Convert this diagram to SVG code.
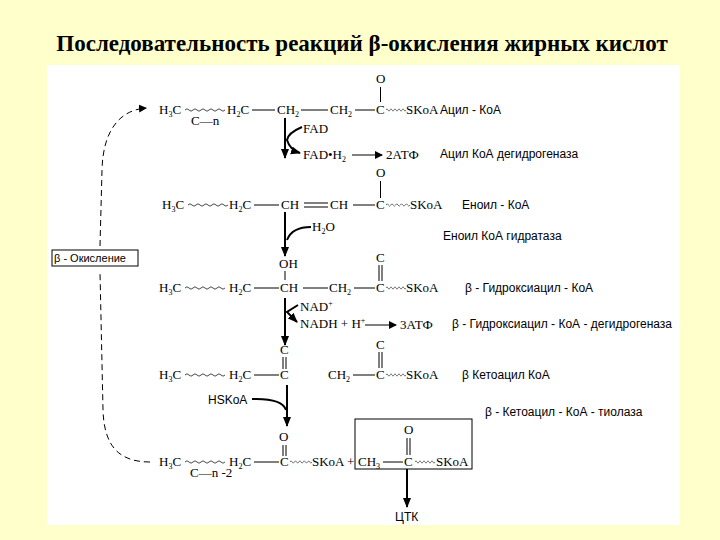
<svg xmlns="http://www.w3.org/2000/svg" width="720" height="540" viewBox="0 0 720 540">
<style>
.c{font-family:"Liberation Serif",serif;font-size:13px;fill:#000}
.s{font-family:"Liberation Sans",sans-serif;font-size:12px;fill:#000}
.b{stroke:#000;stroke-width:1;fill:none}
.w{stroke:#000;stroke-width:0.8;fill:none}
.a{stroke:#000;stroke-width:2;fill:none}
</style>
<defs>
<marker id="ah" markerWidth="8" markerHeight="8" refX="7" refY="4" orient="auto" markerUnits="userSpaceOnUse"><path d="M0,0 L8,4 L0,8 z" fill="#000"/></marker>
<marker id="ab" markerWidth="10" markerHeight="10" refX="9" refY="5" orient="auto" markerUnits="userSpaceOnUse"><path d="M0,1 L10,5 L0,9 z" fill="#000"/></marker>
<path id="wv" d="M0,0 q2,-3 4,0 t4,0 t4,0 t4,0 t4,0 t4,0 t4,0 t4,0 t4,0 t4,0"/>
</defs>
<rect width="720" height="540" fill="#ffffcc"/>
<rect x="47" y="65" width="633" height="460" fill="#fff"/>
<text x="362" y="51" text-anchor="middle" style="font-family:'Liberation Serif',serif;font-size:23px;font-weight:bold">Последовательность реакций β-окисления жирных кислот</text>

<g id="row1">
<text class="c" x="159" y="114">H<tspan font-size="8" dy="3">3</tspan><tspan dy="-3">C</tspan></text>
<use href="#wv" class="w" transform="translate(185,110) scale(1,0.8)"/>
<text class="c" x="191" y="125">C—n</text>
<text class="c" x="227" y="114">H<tspan font-size="8" dy="3">2</tspan><tspan dy="-3">C</tspan></text>
<path class="b" d="M252,110 H275 M301,110 H328 M355,110 H375"/>
<text class="c" x="277" y="114">CH<tspan font-size="8" dy="3">2</tspan></text>
<text class="c" x="330" y="114">CH<tspan font-size="8" dy="3">2</tspan></text>
<text class="c" x="376" y="114">C</text>
<text class="c" x="376" y="83">O</text>
<path class="b" d="M380.5,87 V102"/>
<use href="#wv" class="w" transform="translate(386,110) scale(0.5,0.8)"/>
<text class="c" x="406" y="114">SKoA</text>
<text class="s" x="440" y="114">Ацил - КоА</text>
</g>

<g id="step1">
<path class="a" d="M285,118 V158" marker-end="url(#ab)"/>
<path class="a" d="M302,127 Q288,133 287,140 Q290,150 300,153" marker-end="url(#ab)"/>
<text class="c" x="303" y="133">FAD</text>
<text class="c" x="303" y="159">FAD•H<tspan font-size="8" dy="3">2</tspan></text>
<path class="b" d="M352,155 H382" marker-end="url(#ah)"/>
<text class="c" x="386" y="159">2АТФ</text>
<text class="s" x="440" y="158">Ацил КоА дегидрогеназа</text>
</g>

<g id="row2">
<text class="c" x="162" y="209">H<tspan font-size="8" dy="3">3</tspan><tspan dy="-3">C</tspan></text>
<use href="#wv" class="w" transform="translate(188,205) scale(1,0.8)"/>
<text class="c" x="229" y="209">H<tspan font-size="8" dy="3">2</tspan><tspan dy="-3">C</tspan></text>
<path class="b" d="M254,205 H279 M304,203 H328 M304,207 H328 M353,205 H375"/>
<text class="c" x="281" y="209">CH</text>
<text class="c" x="330" y="209">CH</text>
<text class="c" x="376" y="209">C</text>
<text class="c" x="376" y="177">O</text>
<path class="b" d="M380.5,181 V198"/>
<use href="#wv" class="w" transform="translate(386,205) scale(0.6,0.8)"/>
<text class="c" x="410" y="209">SKoA</text>
<text class="s" x="462" y="209">Еноил - КоА</text>
</g>

<g id="step2">
<path class="a" d="M285,212 V256" marker-end="url(#ab)"/>
<path class="a" d="M311,227 Q292,227 287,240"/>
<text class="c" x="312" y="231">H<tspan font-size="8" dy="3">2</tspan><tspan dy="-3">O</tspan></text>
<text class="s" x="443" y="240">Еноил КоА гидратаза</text>
</g>

<g id="row3">
<text class="c" x="279" y="268">OH</text>
<path class="b" d="M285,271 V280"/>
<text class="c" x="159" y="292">H<tspan font-size="8" dy="3">3</tspan><tspan dy="-3">C</tspan></text>
<use href="#wv" class="w" transform="translate(185,288) scale(1,0.8)"/>
<text class="c" x="229" y="292">H<tspan font-size="8" dy="3">2</tspan><tspan dy="-3">C</tspan></text>
<path class="b" d="M254,288 H279 M303,288 H328 M354,288 H375"/>
<text class="c" x="280" y="292">CH</text>
<text class="c" x="329" y="292">CH<tspan font-size="8" dy="3">2</tspan></text>
<text class="c" x="376" y="292">C</text>
<text class="c" x="376" y="262">C</text>
<path class="b" d="M379,265 V281 M382,265 V281"/>
<use href="#wv" class="w" transform="translate(386,288) scale(0.5,0.8)"/>
<text class="c" x="406" y="292">SKoA</text>
<text class="s" x="465" y="292">β - Гидроксиацил - КоА</text>
</g>

<g id="step3">
<path class="a" d="M285,298 V345" marker-end="url(#ab)"/>
<path class="a" d="M298,305 L287,312 L297,322" marker-end="url(#ab)"/>
<text class="c" x="300" y="311">NAD<tspan font-size="8" dy="-5">+</tspan></text>
<text class="c" x="300" y="328">NADH + H<tspan font-size="8" dy="-5">+</tspan></text>
<path class="b" d="M365,325 H396" marker-end="url(#ah)"/>
<text class="c" x="400" y="329">3АТФ</text>
<text class="s" x="452" y="328">β - Гидроксиацил - КоА - дегидрогеназа</text>
</g>

<g id="row4">
<text class="c" x="280" y="354">C</text>
<path class="b" d="M283,357 V369 M286,357 V369"/>
<text class="c" x="159" y="379">H<tspan font-size="8" dy="3">3</tspan><tspan dy="-3">C</tspan></text>
<use href="#wv" class="w" transform="translate(185,375) scale(1,0.8)"/>
<text class="c" x="229" y="379">H<tspan font-size="8" dy="3">2</tspan><tspan dy="-3">C</tspan></text>
<path class="b" d="M254,375 H279 M353,375 H375"/>
<text class="c" x="280" y="379">C</text>
<text class="c" x="328" y="379">CH<tspan font-size="8" dy="3">2</tspan></text>
<text class="c" x="376" y="379">C</text>
<text class="c" x="376" y="349">C</text>
<path class="b" d="M379,352 V368 M382,352 V368"/>
<use href="#wv" class="w" transform="translate(386,375) scale(0.5,0.8)"/>
<text class="c" x="406" y="379">SKoA</text>
<text class="s" x="462" y="379">β Кетоацил КоА</text>
</g>

<g id="step4">
<path class="a" d="M287,385 V426" marker-end="url(#ab)"/>
<path class="a" d="M252,399 Q282,398 286,410"/>
<text class="s" x="208" y="404">HSKoA</text>
<text class="s" x="485" y="416">β - Кетоацил - КоА - тиолаза</text>
</g>

<g id="row5">
<text class="c" x="279" y="441">O</text>
<path class="b" d="M283,445 V456 M286,445 V456"/>
<text class="c" x="159" y="466">H<tspan font-size="8" dy="3">3</tspan><tspan dy="-3">C</tspan></text>
<use href="#wv" class="w" transform="translate(185,462) scale(1,0.8)"/>
<text class="c" x="190" y="477">C—n -2</text>
<text class="c" x="229" y="466">H<tspan font-size="8" dy="3">2</tspan><tspan dy="-3">C</tspan></text>
<path class="b" d="M254,462 H279"/>
<text class="c" x="280" y="466">C</text>
<use href="#wv" class="w" transform="translate(290,462) scale(0.55,0.8)"/>
<text class="c" x="312" y="466">SKoA +</text>
<rect class="b" x="355" y="419" width="117" height="50"/>
<text class="c" x="358" y="466">CH<tspan font-size="8" dy="3">3</tspan></text>
<path class="b" d="M383,462 H403"/>
<text class="c" x="404" y="466">C</text>
<text class="c" x="404" y="434">O</text>
<path class="b" d="M407,438 V455 M410,438 V455"/>
<use href="#wv" class="w" transform="translate(415,462) scale(0.5,0.8)"/>
<text class="c" x="436" y="466">SKoA</text>
<path class="a" d="M407,469 V507" marker-end="url(#ab)"/>
<text class="s" x="395" y="521">ЦТК</text>
</g>

<g id="cycle">
<rect x="52" y="250" width="86" height="16" fill="#fff" stroke="#000"/>
<text class="s" x="54" y="262" style="font-size:11px">β - Окисление</text>
</g>

<g id="connectors">
<path class="b" stroke-dasharray="6,4" d="M150,462 C118,462 104,445 103,410 L100,272"/>
<path class="b" stroke-dasharray="6,4" d="M100,246 L102,170 C103,130 120,110 146,108" marker-end="url(#ah)"/>
</g>
</svg>
